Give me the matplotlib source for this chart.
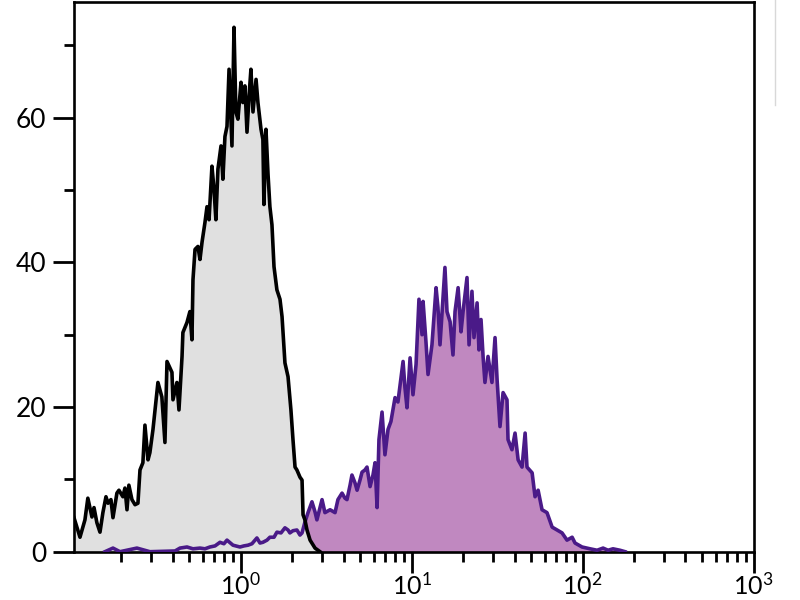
import numpy as np
import matplotlib
matplotlib.use("Agg")
import matplotlib.pyplot as plt
from matplotlib.lines import Line2D
from matplotlib.ticker import FixedLocator, NullFormatter

plt.rcParams['font.family'] = ['Lato', 'DejaVu Sans']

# Control (gray) histogram: log10 fluorescence and counts
gray_log10_fl = [-0.975, -0.940, -0.911, -0.894, -0.870, -0.858, -0.841, -0.823, -0.806, -0.788,
                 -0.776, -0.759, -0.747, -0.724, -0.712, -0.689, -0.677, -0.665, -0.654, -0.636,
                 -0.618, -0.601, -0.589, -0.572, -0.560, -0.542, -0.531, -0.513, -0.484, -0.461,
                 -0.443, -0.431, -0.402, -0.396, -0.373, -0.361, -0.343, -0.338, -0.314, -0.297,
                 -0.285, -0.279, -0.267, -0.250, -0.238, -0.226, -0.209, -0.197, -0.185, -0.168,
                 -0.156, -0.145, -0.133, -0.115, -0.104, -0.092, -0.080, -0.068, -0.051, -0.039,
                 -0.028, -0.016, 0.002, 0.013, 0.025, 0.037, 0.049, 0.060, 0.072, 0.090,
                 0.101, 0.119, 0.130, 0.136, 0.148, 0.160, 0.171, 0.183, 0.195, 0.212,
                 0.230, 0.242, 0.259, 0.277, 0.294, 0.306, 0.318, 0.329, 0.347, 0.359,
                 0.365, 0.376, 0.388, 0.406, 0.435, 0.464]
gray_counts = [4.7, 2.0, 4.4, 7.4, 4.8, 6.1, 4.0, 2.7, 5.4, 7.6,
               6.7, 7.2, 4.7, 8.1, 8.5, 7.6, 8.8, 5.8, 9.2, 7.2,
               6.5, 6.7, 11.3, 12.3, 17.5, 12.7, 13.7, 16.9, 23.4, 21.4,
               15.1, 26.3, 24.8, 21.0, 23.4, 19.6, 27.0, 30.3, 31.7, 33.2,
               29.3, 37.6, 41.8, 42.2, 40.4, 42.8, 45.5, 47.7, 45.9, 53.3,
               50.1, 45.9, 52.9, 56.1, 51.5, 57.4, 58.8, 66.7, 56.1, 72.5,
               60.8, 59.8, 64.9, 62.1, 64.4, 58.0, 63.0, 66.7, 60.8, 65.3,
               62.1, 58.4, 57.0, 48.0, 58.4, 52.2, 47.7, 45.2, 39.4, 36.2,
               34.9, 32.5, 26.1, 24.2, 19.6, 15.5, 11.7, 11.3, 10.3, 9.9,
               5.1, 4.4, 3.0, 1.6, 0.5, 0.0]

# Stained (purple) histogram
purple_log10_fl = [-0.794, -0.747, -0.706, -0.607, -0.531, -0.384, -0.355, -0.314, -0.279, -0.238,
                   -0.209, -0.180, -0.150, -0.121, -0.098, -0.080, -0.045, -0.004, 0.019, 0.043,
                   0.066, 0.095, 0.113, 0.130, 0.154, 0.171, 0.195, 0.212, 0.236, 0.259,
                   0.277, 0.288, 0.306, 0.329, 0.347, 0.359, 0.376, 0.394, 0.417, 0.435,
                   0.446, 0.464, 0.476, 0.493, 0.523, 0.552, 0.569, 0.593, 0.610, 0.622,
                   0.640, 0.651, 0.669, 0.681, 0.698, 0.710, 0.727, 0.739, 0.757, 0.774,
                   0.786, 0.798, 0.809, 0.827, 0.844, 0.862, 0.879, 0.903, 0.920, 0.950,
                   0.961, 0.973, 0.991, 1.008, 1.026, 1.043, 1.061, 1.067, 1.084, 1.096,
                   1.119, 1.143, 1.154, 1.166, 1.184, 1.195, 1.207, 1.225, 1.242, 1.254,
                   1.272, 1.289, 1.301, 1.324, 1.336, 1.353, 1.365, 1.383, 1.394, 1.406,
                   1.418, 1.429, 1.447, 1.470, 1.488, 1.500, 1.517, 1.535, 1.558, 1.564,
                   1.587, 1.605, 1.623, 1.646, 1.664, 1.675, 1.705, 1.722, 1.740, 1.763,
                   1.792, 1.822, 1.851, 1.880, 1.909, 1.939, 1.956, 1.997, 2.044, 2.085,
                   2.120, 2.149, 2.178, 2.219, 2.249]
purple_counts = [0.0, 0.5, 0.0, 0.5, 0.0, 0.1, 0.5, 0.65, 0.4, 0.5,
                 0.4, 0.65, 0.8, 1.3, 1.1, 1.6, 0.9, 0.65, 0.8, 0.9,
                 1.1, 1.9, 1.2, 1.3, 1.6, 2.0, 2.0, 2.7, 2.6, 3.3,
                 3.0, 2.6, 2.9, 3.0, 2.3, 2.6, 4.1, 5.4, 6.9, 5.5,
                 4.4, 6.1, 7.2, 5.4, 5.8, 5.4, 7.2, 8.1, 7.4, 7.2,
                 9.2, 10.6, 9.5, 8.5, 9.9, 11.0, 11.3, 11.7, 9.0, 10.6,
                 12.3, 6.1, 15.5, 19.3, 13.4, 16.9, 18.0, 21.3, 20.7, 26.3,
                 22.7, 19.9, 26.8, 21.7, 25.9, 34.9, 30.0, 34.6, 29.0, 24.5,
                 28.6, 36.5, 33.8, 28.6, 35.1, 39.3, 33.2, 31.8, 27.2, 33.2,
                 36.5, 30.4, 33.2, 37.9, 28.6, 36.0, 29.6, 34.4, 27.9, 32.1,
                 27.0, 23.4, 27.0, 23.4, 29.6, 23.8, 17.3, 22.0, 21.0, 15.5,
                 14.1, 16.4, 12.7, 11.7, 16.4, 11.7, 10.9, 7.6, 8.5, 5.8,
                 5.4, 3.4, 3.0, 2.6, 1.6, 2.0, 1.2, 0.65, 0.4, 0.2,
                 0.5, 0.2, 0.4, 0.2, 0.0]

y_ticks = [0, 20, 40, 60]
y_minor = [10, 30, 50, 70]
x_ticks = [1, 10, 100, 1000]
x_tick_labels = [r'$\mathregular{10^{0}}$', r'$\mathregular{10^{1}}$',
                 r'$\mathregular{10^{2}}$', r'$\mathregular{10^{3}}$']

gx = np.power(10.0, gray_log10_fl)
px = np.power(10.0, purple_log10_fl)

fig = plt.figure(figsize=(8, 6), dpi=100)
ax = fig.add_axes([74/800, 1 - 551.7/600, (753.5 - 74)/800, (551.7 - 2)/600])

ax.fill_between(px, purple_counts, 0, color='#c088c0', lw=0, zorder=1)
ax.fill_between(gx, gray_counts, 0, color='#e0e0e0', lw=0, zorder=2)
ax.plot(px, purple_counts, color='#4a1a88', lw=2.6, zorder=3, solid_joinstyle='round')
ax.plot(gx, gray_counts, color='black', lw=2.6, zorder=4, solid_joinstyle='round')

ax.set_xscale('log')
ax.set_xlim(10 ** -0.975, 1000)
ax.set_ylim(0, 76)

ax.set_xticks(x_ticks, x_tick_labels)
minors = [m * 10.0 ** d for d in range(-1, 3) for m in range(2, 10)]
ax.xaxis.set_minor_locator(FixedLocator(minors))
ax.xaxis.set_minor_formatter(NullFormatter())
ax.set_yticks(y_ticks)
ax.set_yticks(y_minor, minor=True)

ax.tick_params(axis='both', which='major', length=15, width=2,
               direction='out', color='black')
ax.tick_params(axis='both', which='minor', length=7, width=2, direction='out')
ax.tick_params(axis='y', which='major', pad=5, labelsize=19)
ax.tick_params(axis='x', which='major', pad=0, labelsize=18)

for s in ax.spines.values():
    s.set_linewidth(1.9)
    s.set_color('black')

fig.add_artist(Line2D([775/800, 775/800], [1.0, 1 - 105/600], color='#d8d8d8', lw=1))

fig.savefig('out.png', dpi=100)
